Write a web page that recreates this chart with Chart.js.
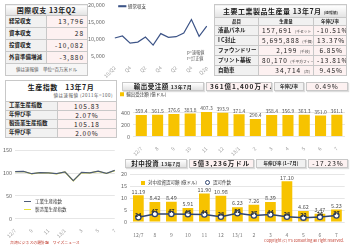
<!DOCTYPE html>
<html>
<head>
<meta charset="utf-8">
<script src="https://cdn.jsdelivr.net/npm/chart.js@4.4.1/dist/chart.umd.min.js"></script>
<style>
body{margin:0;width:350px;height:247px;background:#fff;font-family:"Noto Sans CJK JP",sans-serif;color:#222;position:relative;overflow:hidden}
.box{position:absolute}
table{border-collapse:collapse;table-layout:fixed;width:100%;height:100%}
td{border:1px solid #c8c8c8;padding:0 3px;white-space:nowrap;overflow:hidden;font-size:6px;line-height:1}
.t{background:linear-gradient(#fff,#e2e2e2);font-weight:bold;text-align:center;font-size:7px;letter-spacing:.5px}
.l{background:#f1f1f1;font-weight:bold;font-size:5.5px}
.v{background:#fdf1f1;text-align:right;letter-spacing:1px;font-size:6.5px}
.c{text-align:center}
.h{background:#f1f1f1;text-align:center;font-size:4.5px;font-weight:bold}
.n{font-size:4.5px;text-align:center;color:#555;background:#f6f6f6}
small{font-size:3.8px;letter-spacing:0;color:#444}
.hdr{border-collapse:separate;border-spacing:2px 0}
.hdr td{box-shadow:1px 1px 1px #ddd}
canvas{position:absolute}
.note{position:absolute;font-size:4.2px;color:#555;line-height:1.35}
.foot{position:absolute;font-size:3.9px;color:#c0392b}
.lg{position:absolute;font-size:4.5px;color:#333;line-height:1.7;white-space:nowrap}
.lg i{display:inline-block;width:7px;height:1px;vertical-align:middle;margin-right:4px}
</style>
</head>
<body>

<div class="box" style="left:5px;top:4px;width:83px;height:72px">
<table>
<tr style="height:11px"><td class="t" colspan="2">国際収支 13年Q2</td></tr>
<tr style="height:12px"><td class="l">経常収支</td><td class="v">13,796</td></tr>
<tr style="height:12px"><td class="l">資本収支</td><td class="v">28</td></tr>
<tr style="height:12px"><td class="l">投資収支</td><td class="v">-10,082</td></tr>
<tr style="height:12px"><td class="l">外貨準備増減</td><td class="v">-3,880</td></tr>
<tr style="height:12px"><td class="n" colspan="2">値は速報値　単位=百万米ドル</td></tr>
</table>
</div>

<canvas id="caChart" width="126" height="80" style="left:86px;top:0"></canvas>
<div class="note" style="left:187px;top:50px">p=速報値<br>r=訂正値</div>

<div class="box" style="left:214px;top:4px;width:133px;height:72px">
<table>
<colgroup><col style="width:44px"><col style="width:55px"><col></colgroup>
<tr style="height:13px"><td class="t" colspan="3">主要工業製品生産量 13年7月 <small>(速報値)</small></td></tr>
<tr style="height:8px"><td class="h">品目</td><td class="h">生産量</td><td class="h">年伸び率</td></tr>
<tr style="height:10px"><td class="l">液晶パネル</td><td class="v">157,691 <small>(千セット・枚)</small></td><td class="v">-10.51%</td></tr>
<tr style="height:10px"><td class="l">I C封止</td><td class="v">5,695,888 <small>(千個)</small></td><td class="v">13.37%</td></tr>
<tr style="height:10px"><td class="l">ファウンドリー</td><td class="v">2,199 <small>(千枚)</small></td><td class="v">6.85%</td></tr>
<tr style="height:10px"><td class="l">プリント基板</td><td class="v">80,170 <small>(千平方フィート)</small></td><td class="v">-13.81%</td></tr>
<tr style="height:10px"><td class="l">自動車</td><td class="v">34,714 <small>(台)</small></td><td class="v">9.45%</td></tr>
</table>
</div>

<div class="box" style="left:5px;top:80px;width:112px;height:57px">
<table>
<colgroup><col style="width:52px"><col></colgroup>
<tr style="height:21px"><td class="t" colspan="2" style="background:#fff">生産指数　13年7月<div style="font-size:4.5px;font-weight:normal;text-align:right;color:#555;margin-top:2px">値は速報値 (2011年=100)</div></td></tr>
<tr style="height:9px"><td class="l">工業生産指数</td><td class="v c">105.83</td></tr>
<tr style="height:9px"><td class="l">年伸び率</td><td class="v c">2.07%</td></tr>
<tr style="height:9px"><td class="l">製造業生産指数</td><td class="v c">105.18</td></tr>
<tr style="height:9px"><td class="l">年伸び率</td><td class="v c">2.00%</td></tr>
</table>
</div>

<canvas id="piChart" width="120" height="96" style="left:0;top:144px"></canvas>
<div class="lg" style="left:24px;top:198px">
<div><i style="background:#4d5b78"></i>工業生産指数</div>
<div><i style="background:#e6e23a"></i>製造業生産指数</div>
</div>

<div class="box" style="left:120px;top:82px;width:230px;height:9px">
<table class="hdr">
<colgroup><col style="width:82px"><col style="width:66px"><col style="width:30px"><col></colgroup>
<tr><td class="t" style="font-size:6.5px">輸出受注額 <span style="font-size:5px">13年7月</span></td><td class="v c" style="font-weight:bold">361億1,400万ドル</td><td class="h">年伸び率</td><td class="v c">0.49%</td></tr>
</table>
</div>
<canvas id="exChart" width="232" height="68" style="left:118px;top:90px"></canvas>

<div class="box" style="left:123px;top:159px;width:227px;height:9px">
<table class="hdr">
<colgroup><col style="width:62px"><col style="width:65px"><col style="width:50px"><col></colgroup>
<tr><td class="t" style="font-size:6.5px">対中投資 <span style="font-size:4.5px">13年7月</span></td><td class="v c" style="font-weight:bold">5億3,236万ドル</td><td class="h">年伸び率 (1~7月)</td><td class="v c">-17.23%</td></tr>
</table>
</div>
<canvas id="ivChart" width="232" height="72" style="left:118px;top:168px"></canvas>
<div class="lg" style="left:141px;top:179px">
<span style="display:inline-block;width:4px;height:4px;background:#f7c300;vertical-align:middle;margin-right:3px"></span>対中投資認可額 (億ドル)
<span style="display:inline-block;width:3px;height:3px;border:1px solid #2f4470;border-radius:50%;vertical-align:middle;margin:0 3px 0 7px"></span>認可件数
</div>

<div class="foot" style="left:10px;top:239px">台湾ビジネスの羅針盤　ワイズニュース</div>
<div class="foot" style="right:6px;top:238px;font-size:3.8px">Copyright (C) Y's consulting all right reserved.</div>

<script>
// 国際収支（経常収支、百万米ドル）
const caLabels = ['10/Q2','Q3','Q4','11/Q1','Q2','Q3','Q4','12/Q1','Q2','Q3','Q4','13/Q1r','Q2p']
const caValues = [10300, 10900, 8800, 9100, 10600, 8200, 11600, 10500, 10700, 11800, 15800, 10800, 13796]

// 生産指数
const monthLabels = ['12/7','8','9','10','11','12','13/1','2','3','4','5','6','7']
const indIndex = [103.0, 103.5, 98.5, 101.0, 100.5, 98.5, 102.5, 83.0, 101.5, 100.5, 104.0, 99.5, 105.83]
const mfgIndex = [102.8, 103.3, 98.2, 100.7, 100.2, 98.2, 102.2, 82.5, 101.0, 100.2, 103.6, 99.0, 105.18]

// 輸出受注額（億ドル）
const exportOrders = [359.4, 361.5, 376.6, 383.8, 407.3, 393.9, 371.4, 290.4, 358.4, 356.9, 363.3, 351.0, 361.1]

// 対中投資
const invAmount = [11.19, 8.42, 8.49, 5.91, 11.90, 10.98, 6.23, 7.26, 8.39, 17.10, 4.62, 3.47, 5.23]
const invCount = [24, 47, 47, 45, 44, 28, 52, 37, 44, 28, 22, 26, 37]

const FONT = '"Noto Sans CJK JP", sans-serif'
const YELLOW = '#f7c300'
const NAVY = '#2f4470'

const valueLabels = {
    id: 'valueLabels',
    afterDatasetsDraw(chart) {
        const ctx = chart.ctx
        chart.data.datasets.forEach((ds, i) => {
            if (!ds.labelFmt) return
            const meta = chart.getDatasetMeta(i)
            ctx.save()
            ctx.font = ds.labelFont
            ctx.fillStyle = ds.labelColor
            ctx.textAlign = 'center'
            ctx.textBaseline = 'bottom'
            meta.data.forEach((el, j) => {
                ctx.fillText(ds.labelFmt(ds.data[j]), el.x, el.y - ds.labelGap)
            })
            ctx.restore()
        })
    }
}

const tickFont = { family: FONT, size: 5.5 }

new Chart(document.querySelector('#caChart'), {
    type: 'line',
    data: {
        labels: caLabels,
        datasets: [{
            label: '経常収支',
            data: caValues,
            borderColor: '#3d5487',
            backgroundColor: '#3d5487',
            borderWidth: 1.2,
            pointRadius: 0,
            tension: 0
        }]
    },
    options: {
        responsive: false,
        animation: false,
        layout: { padding: { top: 2, right: 4, left: 0, bottom: 0 } },
        plugins: {
            tooltip: { enabled: false },
            legend: {
                position: 'chartArea',
                align: 'start',
                labels: { boxWidth: 7, boxHeight: 1, padding: 4, font: { family: FONT, size: 4.5 }, color: '#333' }
            }
        },
        scales: {
            y: {
                min: 5000, max: 20000,
                ticks: { stepSize: 5000, font: tickFont, color: '#666', padding: 2 },
                grid: { display: false },
                border: { display: false }
            },
            x: {
                ticks: { minRotation: 45, maxRotation: 45, font: { family: FONT, size: 5 }, color: '#999', padding: 1 },
                grid: { display: false },
                border: { display: false }
            }
        }
    }
})

new Chart(document.querySelector('#piChart'), {
    type: 'line',
    data: {
        labels: monthLabels,
        datasets: [
            { label: '工業生産指数', data: indIndex, borderColor: '#4d5b78', borderWidth: 1.2, pointRadius: 0 },
            { label: '製造業生産指数', data: mfgIndex, borderColor: '#e6e23a', borderWidth: 1.2, pointRadius: 0 }
        ]
    },
    options: {
        responsive: false,
        animation: false,
        layout: { padding: { top: 3, right: 3 } },
        plugins: { legend: { display: false }, tooltip: { enabled: false } },
        scales: {
            y: {
                min: 0, max: 150,
                ticks: { stepSize: 50, font: tickFont, color: '#666', padding: 3 },
                grid: { color: '#e6e6e6', drawTicks: false },
                border: { display: false }
            },
            x: {
                ticks: { minRotation: 45, maxRotation: 45, font: { family: FONT, size: 5 }, color: '#999', padding: 1 },
                grid: { display: false },
                border: { display: false }
            }
        }
    }
})

new Chart(document.querySelector('#exChart'), {
    type: 'bar',
    data: {
        labels: monthLabels,
        datasets: [{
            label: '輸出受注額 (億ドル)',
            data: exportOrders,
            backgroundColor: YELLOW,
            barPercentage: 0.68,
            categoryPercentage: 1,
            labelFmt: v => v.toFixed(1),
            labelFont: '5px ' + FONT,
            labelColor: '#555',
            labelGap: 1
        }]
    },
    options: {
        responsive: false,
        animation: false,
        layout: { padding: { right: 5 } },
        plugins: {
            tooltip: { enabled: false },
            legend: {
                align: 'start',
                labels: { boxWidth: 4, boxHeight: 4, padding: 2, font: { family: FONT, size: 4.5 }, color: '#333' }
            }
        },
        scales: {
            y: {
                min: 0, max: 500,
                ticks: { stepSize: 100, font: tickFont, color: '#666', padding: 3 },
                grid: { color: '#e6e6e6', drawTicks: false },
                border: { display: false }
            },
            x: {
                ticks: { minRotation: 45, maxRotation: 45, font: { family: FONT, size: 5 }, color: '#999', padding: 1 },
                grid: { display: false },
                border: { display: false }
            }
        }
    },
    plugins: [valueLabels]
})

new Chart(document.querySelector('#ivChart'), {
    data: {
        labels: monthLabels,
        datasets: [
            {
                type: 'bar',
                label: '対中投資認可額 (億ドル)',
                data: invAmount,
                backgroundColor: YELLOW,
                barPercentage: 0.65,
                categoryPercentage: 1,
                order: 2,
                labelFmt: v => v.toFixed(2),
                labelFont: '5.5px ' + FONT,
                labelColor: '#555',
                labelGap: 1
            },
            {
                type: 'line',
                label: '認可件数',
                data: invCount,
                yAxisID: 'y2',
                borderColor: NAVY,
                borderWidth: 1.5,
                pointRadius: 2.6,
                pointBorderWidth: 1.3,
                pointBackgroundColor: '#fff',
                pointBorderColor: NAVY,
                order: 1,
                labelFmt: v => String(v),
                labelFont: 'bold 5.5px ' + FONT,
                labelColor: '#333',
                labelGap: 0
            }
        ]
    },
    options: {
        responsive: false,
        animation: false,
        layout: { padding: { right: 5, top: 2 } },
        plugins: { tooltip: { enabled: false }, legend: { display: false } },
        scales: {
            y: {
                min: 0, max: 20,
                ticks: { stepSize: 5, font: tickFont, color: '#666', padding: 3 },
                grid: { color: '#e6e6e6', drawTicks: false },
                border: { display: false }
            },
            y2: {
                display: false,
                min: -8, max: 320
            },
            x: {
                ticks: { maxRotation: 0, font: { family: FONT, size: 5 }, color: '#777', padding: 2 },
                grid: { display: false },
                border: { display: false }
            }
        }
    },
    plugins: [valueLabels]
})
</script>
</body>
</html>
